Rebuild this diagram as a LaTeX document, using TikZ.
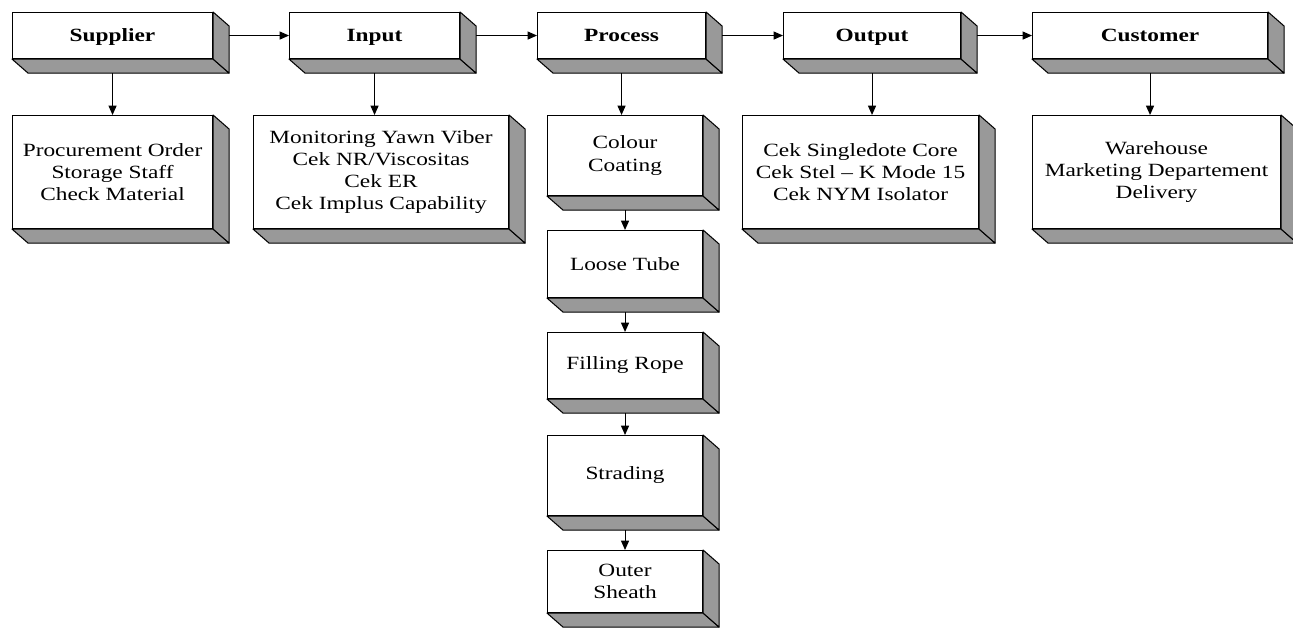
\documentclass[tikz,border=0pt]{standalone}
\usepackage{fontspec}
\setmainfont{Liberation Serif}[FakeStretch=1.25]
\usetikzlibrary{arrows.meta}
\definecolor{facegray}{HTML}{999999}
\newcommand\cubefaces[1]{%
  \draw[face] (#1.south west) -- ++(12pt,-10.5pt) -- ([shift={(12pt,-10.5pt)}]#1.south east) -- (#1.south east) -- cycle;
  \draw[face] (#1.north east) -- ++(12pt,-10.5pt) -- ([shift={(12pt,-10.5pt)}]#1.south east) -- (#1.south east) -- cycle;}
\tikzset{
  front/.style={draw, fill=white, line width=0.8pt, align=center, inner sep=2pt, anchor=north west,
    font=\fontsize{14}{16.6}\selectfont},
  head/.style={front, font=\bfseries\fontsize{14}{16.6}\selectfont, text height=2.3ex, text depth=0.5ex},
  face/.style={draw, fill=facegray, line width=0.8pt, line join=round},
  arr/.style={line width=0.8pt, -{Triangle[length=7pt,width=6pt]}}
}
\begin{document}
\begin{tikzpicture}[x=0.75pt,y=-0.75pt]
\useasboundingbox (0,0) rectangle (1293,628);
% top row
\node[head, minimum width=150pt, minimum height=34.5pt] (sup) at (12,12) {Supplier};
\node[head, minimum width=127.5pt, minimum height=34.5pt] (inp) at (289,12) {Input};
\node[head, minimum width=126pt, minimum height=34.5pt] (pro) at (537,12) {Process};
\node[head, minimum width=132.75pt, minimum height=34.5pt] (out) at (783,12) {Output};
\node[head, minimum width=176.25pt, minimum height=34.5pt] (cus) at (1032,12) {Customer};
% second row
\node[front, minimum width=150pt, minimum height=84.75pt] (sup2) at (12,115) {Procurement Order\\Storage Staff\\Check Material};
\node[front, minimum width=191.25pt, minimum height=84.75pt] (inp2) at (253,115) {Monitoring Yawn Viber\\Cek NR/Viscositas\\Cek ER\\Cek Implus Capability};
\node[front, minimum width=177pt, minimum height=84.75pt] (out2) at (742,115) {Cek Singledote Core\\Cek Stel -- K Mode 15\\Cek NYM Isolator};
\node[front, minimum width=186pt, minimum height=84.75pt] (cus2) at (1032,115) {Warehouse\\Marketing Departement\\Delivery};
% process chain
\node[front, minimum width=116.25pt, minimum height=60pt] (cc) at (547,115) {Colour\\Coating};
\node[front, minimum width=116.25pt, minimum height=50.25pt] (lt) at (547,230) {Loose Tube};
\node[front, minimum width=116.25pt, minimum height=49.5pt] (fr) at (547,332) {Filling Rope};
\node[front, minimum width=116.25pt, minimum height=60pt] (st) at (547,435) {Strading};
\node[front, minimum width=116.25pt, minimum height=46.5pt] (os) at (547,550) {Outer\\Sheath};
\foreach \n in {sup,inp,pro,out,cus,sup2,inp2,out2,cus2,cc,lt,fr,st,os} {\cubefaces{\n}}
% horizontal arrows
\draw[arr] ([xshift=12pt]sup.east) -- (inp.west);
\draw[arr] ([xshift=12pt]inp.east) -- (pro.west);
\draw[arr] ([xshift=12pt]pro.east) -- (out.west);
\draw[arr] ([xshift=12pt]out.east) -- (cus.west);
% vertical arrows
\draw[arr] ([yshift=-10.5pt]sup.south) -- (sup.south |- sup2.north);
\draw[arr] ([yshift=-10.5pt]inp.south) -- (inp.south |- inp2.north);
\draw[arr] ([yshift=-10.5pt]pro.south) -- (pro.south |- cc.north);
\draw[arr] ([yshift=-10.5pt]out.south) -- (out.south |- out2.north);
\draw[arr] ([yshift=-10.5pt]cus.south) -- (cus.south |- cus2.north);
\draw[arr] ([yshift=-10.5pt]cc.south) -- (cc.south |- lt.north);
\draw[arr] ([yshift=-10.5pt]lt.south) -- (lt.south |- fr.north);
\draw[arr] ([yshift=-10.5pt]fr.south) -- (fr.south |- st.north);
\draw[arr] ([yshift=-10.5pt]st.south) -- (st.south |- os.north);
\end{tikzpicture}
\end{document}
